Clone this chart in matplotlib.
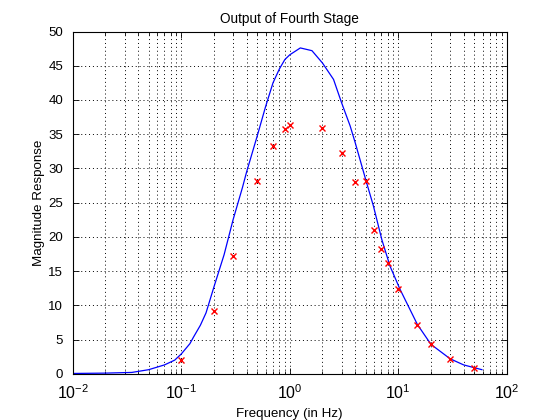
import matplotlib
matplotlib.use("Agg")
import matplotlib.pyplot as plt
from matplotlib.ticker import LogLocator

plt.rcParams['font.family'] = ['Liberation Sans', 'DejaVu Sans']
plt.rcParams['mathtext.default'] = 'regular'

# fitted response curve
curve_freq = [0.01, 0.02, 0.035, 0.05, 0.07, 0.087, 0.1, 0.12, 0.13, 0.15,
              0.169, 0.2, 0.248, 0.3, 0.366, 0.4, 0.5, 0.6, 0.7, 0.8,
              0.9, 1.0, 1.25, 1.6, 2.0, 2.53, 3.0, 3.6, 4.0, 5.0,
              5.9, 7.05, 8.4, 10.4, 15.0, 20.0, 30.0, 40.0, 59.0]
curve_mag = [0.05, 0.1, 0.2, 0.6, 1.3, 2.0, 2.9, 4.4, 5.4, 7.1,
             8.9, 12.7, 17.4, 22.5, 27.2, 29.5, 34.7, 39.1, 42.5, 44.5,
             45.9, 46.6, 47.6, 47.2, 45.4, 43.0, 39.6, 36.2, 33.8, 28.4,
             24.5, 19.6, 15.7, 12.3, 7.2, 4.3, 2.2, 1.3, 0.6]

# measured points
meas_freq = [0.1, 0.2, 0.3, 0.5, 0.7, 0.9, 1, 2, 3, 4, 5, 6, 7, 8, 10, 15, 20, 30, 50]
meas_mag = [2.0, 9.2, 17.2, 28.2, 33.3, 35.7, 36.3, 35.9, 32.3, 28.0, 28.1,
            21.0, 18.2, 16.2, 12.4, 7.2, 4.3, 2.2, 0.8]

fig = plt.figure(figsize=(5.6, 4.2), dpi=100)
ax = fig.add_axes([0.13, 0.11, 0.775, 0.815])

ax.semilogx(curve_freq, curve_mag, color='#0000ff', lw=0.9)
ax.plot(meas_freq, meas_mag, 'x', color='#ff0000', ms=5, mew=1)

ax.set_xlim(0.01, 100)
ax.set_ylim(0, 50)
ax.set_yticks(range(0, 51, 5))
ax.xaxis.set_major_locator(LogLocator(base=10, numticks=10))
ax.xaxis.set_minor_locator(LogLocator(base=10, subs=range(2, 10), numticks=20))

dots = (0, (1, 3))
ax.grid(True, which='major', axis='both', color='k', linestyle=dots, lw=0.7)
ax.grid(True, which='minor', axis='x', color='k', linestyle=dots, lw=0.7)

ax.tick_params(which='both', direction='in', top=True, right=True, width=0.6)
ax.tick_params(which='major', length=4)
ax.tick_params(which='minor', length=2)
ax.tick_params(axis='y', labelsize=9.5, pad=7)
ax.tick_params(axis='x', which='major', labelsize=11.5, pad=7)
for s in ax.spines.values():
    s.set_linewidth(0.8)

ax.set_title("Output of Fourth Stage", fontsize=9.8, pad=6)
ax.set_xlabel("Frequency (in Hz)", fontsize=9.6, labelpad=4)
ax.set_ylabel("Magnitude Response", fontsize=9.6, labelpad=2)

fig.savefig("out.png", dpi=100)
